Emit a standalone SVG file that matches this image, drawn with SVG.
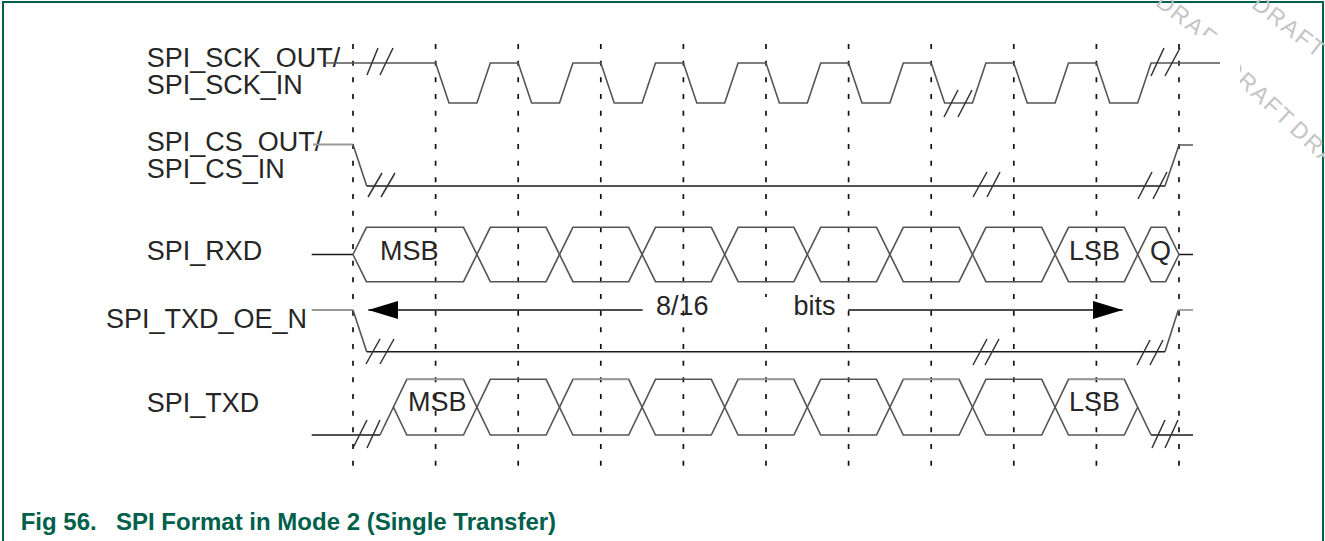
<svg xmlns="http://www.w3.org/2000/svg" width="1325" height="541" viewBox="0 0 1325 541">
<style>
.lbl{font-family:"Liberation Sans",Arial,sans-serif;font-size:27px;fill:#262626}
.cap{font-family:"Liberation Sans",Arial,sans-serif;font-size:24px;font-weight:bold;fill:#00604b}
.wm{font-family:"Liberation Sans",Arial,sans-serif;font-size:23px;fill:#c4c4c4;letter-spacing:2px}
.grid{stroke:#111;stroke-width:1.7;stroke-dasharray:5 11.667;fill:none}
.wave{stroke:#555;stroke-width:1.6;fill:none;stroke-linejoin:miter}
.dark{stroke:#1a1a1a;stroke-width:1.6;fill:none}
.light{stroke:#999;stroke-width:1.8;fill:none}
.brk{stroke:#333;stroke-width:1.5;fill:none}
.arr{stroke:#111;stroke-width:1.6;fill:none}
</style>
<defs>
<marker id="ah" markerUnits="userSpaceOnUse" viewBox="0 0 30 18" refX="30" refY="9" markerWidth="30" markerHeight="18" orient="auto">
<path d="M0,0 L30,9 L0,18 Z" fill="#000"/>
</marker>
<clipPath id="wmclip"><path d="M0 0 H1325 V541 H1240 V35 H0 Z"/></clipPath>
</defs>
<rect x="0" y="0" width="1325" height="541" fill="#fff"/>
<rect x="3" y="2" width="1320" height="600" fill="#fff" stroke="#00604b" stroke-width="2"/>
<g id="watermark" clip-path="url(#wmclip)">
<text class="wm" x="1154.4" y="4.4" transform="rotate(38 1154.4 4.4)">DRAFT</text>
<text class="wm" x="1250.4" y="6.4" transform="rotate(38 1250.4 6.4)">DRAFT</text>
<text class="wm" x="1222.3" y="69.3" transform="rotate(43 1222.3 69.3)" word-spacing="-4">DRAFT DRAFT</text>
</g>
<g id="grid">
<line class="grid" x1="353" y1="44" x2="353" y2="466"/>
<line class="grid" x1="435.6" y1="44" x2="435.6" y2="466"/>
<line class="grid" x1="518.2" y1="44" x2="518.2" y2="466"/>
<line class="grid" x1="600.8" y1="44" x2="600.8" y2="466"/>
<line class="grid" x1="683.4" y1="44" x2="683.4" y2="466"/>
<line class="grid" x1="766" y1="44" x2="766" y2="466"/>
<line class="grid" x1="848.6" y1="44" x2="848.6" y2="466"/>
<line class="grid" x1="931.2" y1="44" x2="931.2" y2="466"/>
<line class="grid" x1="1013.8" y1="44" x2="1013.8" y2="466"/>
<line class="grid" x1="1096.4" y1="44" x2="1096.4" y2="466"/>
<line class="grid" x1="1179" y1="44" x2="1179" y2="466"/>
</g>
<g id="sck">
<text class="lbl" x="146.7" y="66.7">SPI_SCK_OUT/</text>
<text class="lbl" x="146.7" y="94">SPI_SCK_IN</text>
<path class="wave" d="M325 63 L435.6 63 L449 103 L476.9 103 L490.3 63 L518.2 63 L531.6 103 L559.5 103 L572.9 63 L600.8 63 L614.2 103 L642.1 103 L655.5 63 L683.4 63 L696.8 103 L724.7 103 L738.1 63 L766 63 L779.4 103 L807.3 103 L820.7 63 L848.6 63 L862 103 L889.9 103 L903.3 63 L931.2 63 L944.6 103 L972.5 103 L985.9 63 L1013.8 63 L1027.2 103 L1055.1 103 L1068.5 63 L1096.4 63 L1109.8 103 L1137.7 103 L1151.1 63 L1220 63"/>
<path class="brk" d="M367 75 L378 48 M380 75 L393 48 M944 117 L958 90 M958 117 L972 90 M1151 76 L1164 48 M1165 76 L1180 48"/>
</g>
<g id="cs">
<text class="lbl" x="146.7" y="151">SPI_CS_OUT/</text>
<text class="lbl" x="146.7" y="177.7">SPI_CS_IN</text>
<path class="light" d="M313 144.5 L353 144.5"/>
<path class="wave" d="M353 144.5 L366.7 186"/>
<path class="dark" d="M366.7 186 L1165 186"/>
<path class="wave" d="M1165 186 L1179 145 L1193 145"/>
<path class="brk" d="M368 197 L382 173 M381 197 L395 173 M973 197 L987 172 M987 197 L1000 172 M1138 199 L1152 172 M1153 199 L1167 172"/>
</g>
<g id="rxd">
<text class="lbl" x="146.7" y="260">SPI_RXD</text>
<path class="dark" d="M311.7 254.5 L353 254.5 M1179 254.5 L1193 254.5"/>
<polyline class="wave" points="353,254.5 366.4,227.3 463.5,227.3 490.3,281.7 546.1,281.7 572.9,227.3 628.7,227.3 655.5,281.7 711.3,281.7 738.1,227.3 793.9,227.3 820.7,281.7 876.5,281.7 903.3,227.3 959.1,227.3 985.9,281.7 1041.7,281.7 1068.5,227.3 1124.3,227.3 1151.1,281.7 1165.6,281.7 1179,254.5"/>
<polyline class="wave" points="353,254.5 366.4,281.7 463.5,281.7 490.3,227.3 546.1,227.3 572.9,281.7 628.7,281.7 655.5,227.3 711.3,227.3 738.1,281.7 793.9,281.7 820.7,227.3 876.5,227.3 903.3,281.7 959.1,281.7 985.9,227.3 1041.7,227.3 1068.5,281.7 1124.3,281.7 1151.1,227.3 1165.6,227.3 1179,254.5"/>
<text class="lbl" x="380" y="259.5">MSB</text>
<text class="lbl" x="1069" y="260">LSB</text>
<text class="lbl" x="1150" y="260">Q</text>
</g>
<g id="oe">
<text class="lbl" x="106" y="328.3">SPI_TXD_OE_N</text>
<path class="light" d="M311.7 310 L353 310"/>
<path class="wave" d="M353 310 L366.7 351.7"/>
<path class="dark" d="M366.7 351.7 L1165 351.7"/>
<path class="wave" d="M1165 351.7 L1178.3 310"/>
<path class="light" d="M1178.3 310 L1193 310"/>
<path class="brk" d="M366 364 L380 339 M380 364 L394 339 M973 365 L987 339 M985 365 L999 339 M1137 365 L1150 340 M1150 365 L1163 340"/>
</g>
<g id="bits">
<rect x="760" y="297" width="27" height="28" fill="#fff"/>
<text class="lbl" x="656" y="315">8/16</text>
<text class="lbl" x="793.5" y="315">bits</text>
</g>
<g id="txd">
<text class="lbl" x="146.7" y="412.3">SPI_TXD</text>
<path class="dark" d="M311.7 435 L380 435"/>
<polyline class="wave" points="380,435 406.8,379.3 463.5,379.3 490.3,435 546.1,435 572.9,379.3 628.7,379.3 655.5,435 711.3,435 738.1,379.3 793.9,379.3 820.7,435 876.5,435 903.3,379.3 959.1,379.3 985.9,435 1041.7,435 1068.5,379.3 1124.3,379.3 1151.1,435"/>
<polyline class="wave" points="393.4,407.2 406.8,435 463.5,435 490.3,379.3 546.1,379.3 572.9,435 628.7,435 655.5,379.3 711.3,379.3 738.1,435 793.9,435 820.7,379.3 876.5,379.3 903.3,435 959.1,435 985.9,379.3 1041.7,379.3 1068.5,435 1124.3,435 1137.7,407.2"/>
<path class="light" d="M406.8 379.3 L463.5 379.3 M572.9 379.3 L628.7 379.3 M738.1 379.3 L793.9 379.3 M903.3 379.3 L959.1 379.3 M1068.5 379.3 L1124.3 379.3"/>
<path class="dark" d="M1151.1 435 L1193 435"/>
<path class="brk" d="M353 448 L367 420 M367 448 L380 420 M1152 448 L1165 420 M1165 448 L1178 420"/>
<text class="lbl" x="408" y="411">MSB</text>
<text class="lbl" x="1069" y="411">LSB</text>
</g>
<g id="connectors">
<line class="arr" x1="642.7" y1="310" x2="368.3" y2="310" marker-end="url(#ah)"/>
<line class="arr" x1="848.3" y1="310" x2="1122.7" y2="310" marker-end="url(#ah)"/>
</g>
<g id="caption">
<text class="cap" x="20.7" y="529.5">Fig 56.</text>
<text class="cap" x="116" y="529.5">SPI Format in Mode 2 (Single Transfer)</text>
</g>
</svg>
